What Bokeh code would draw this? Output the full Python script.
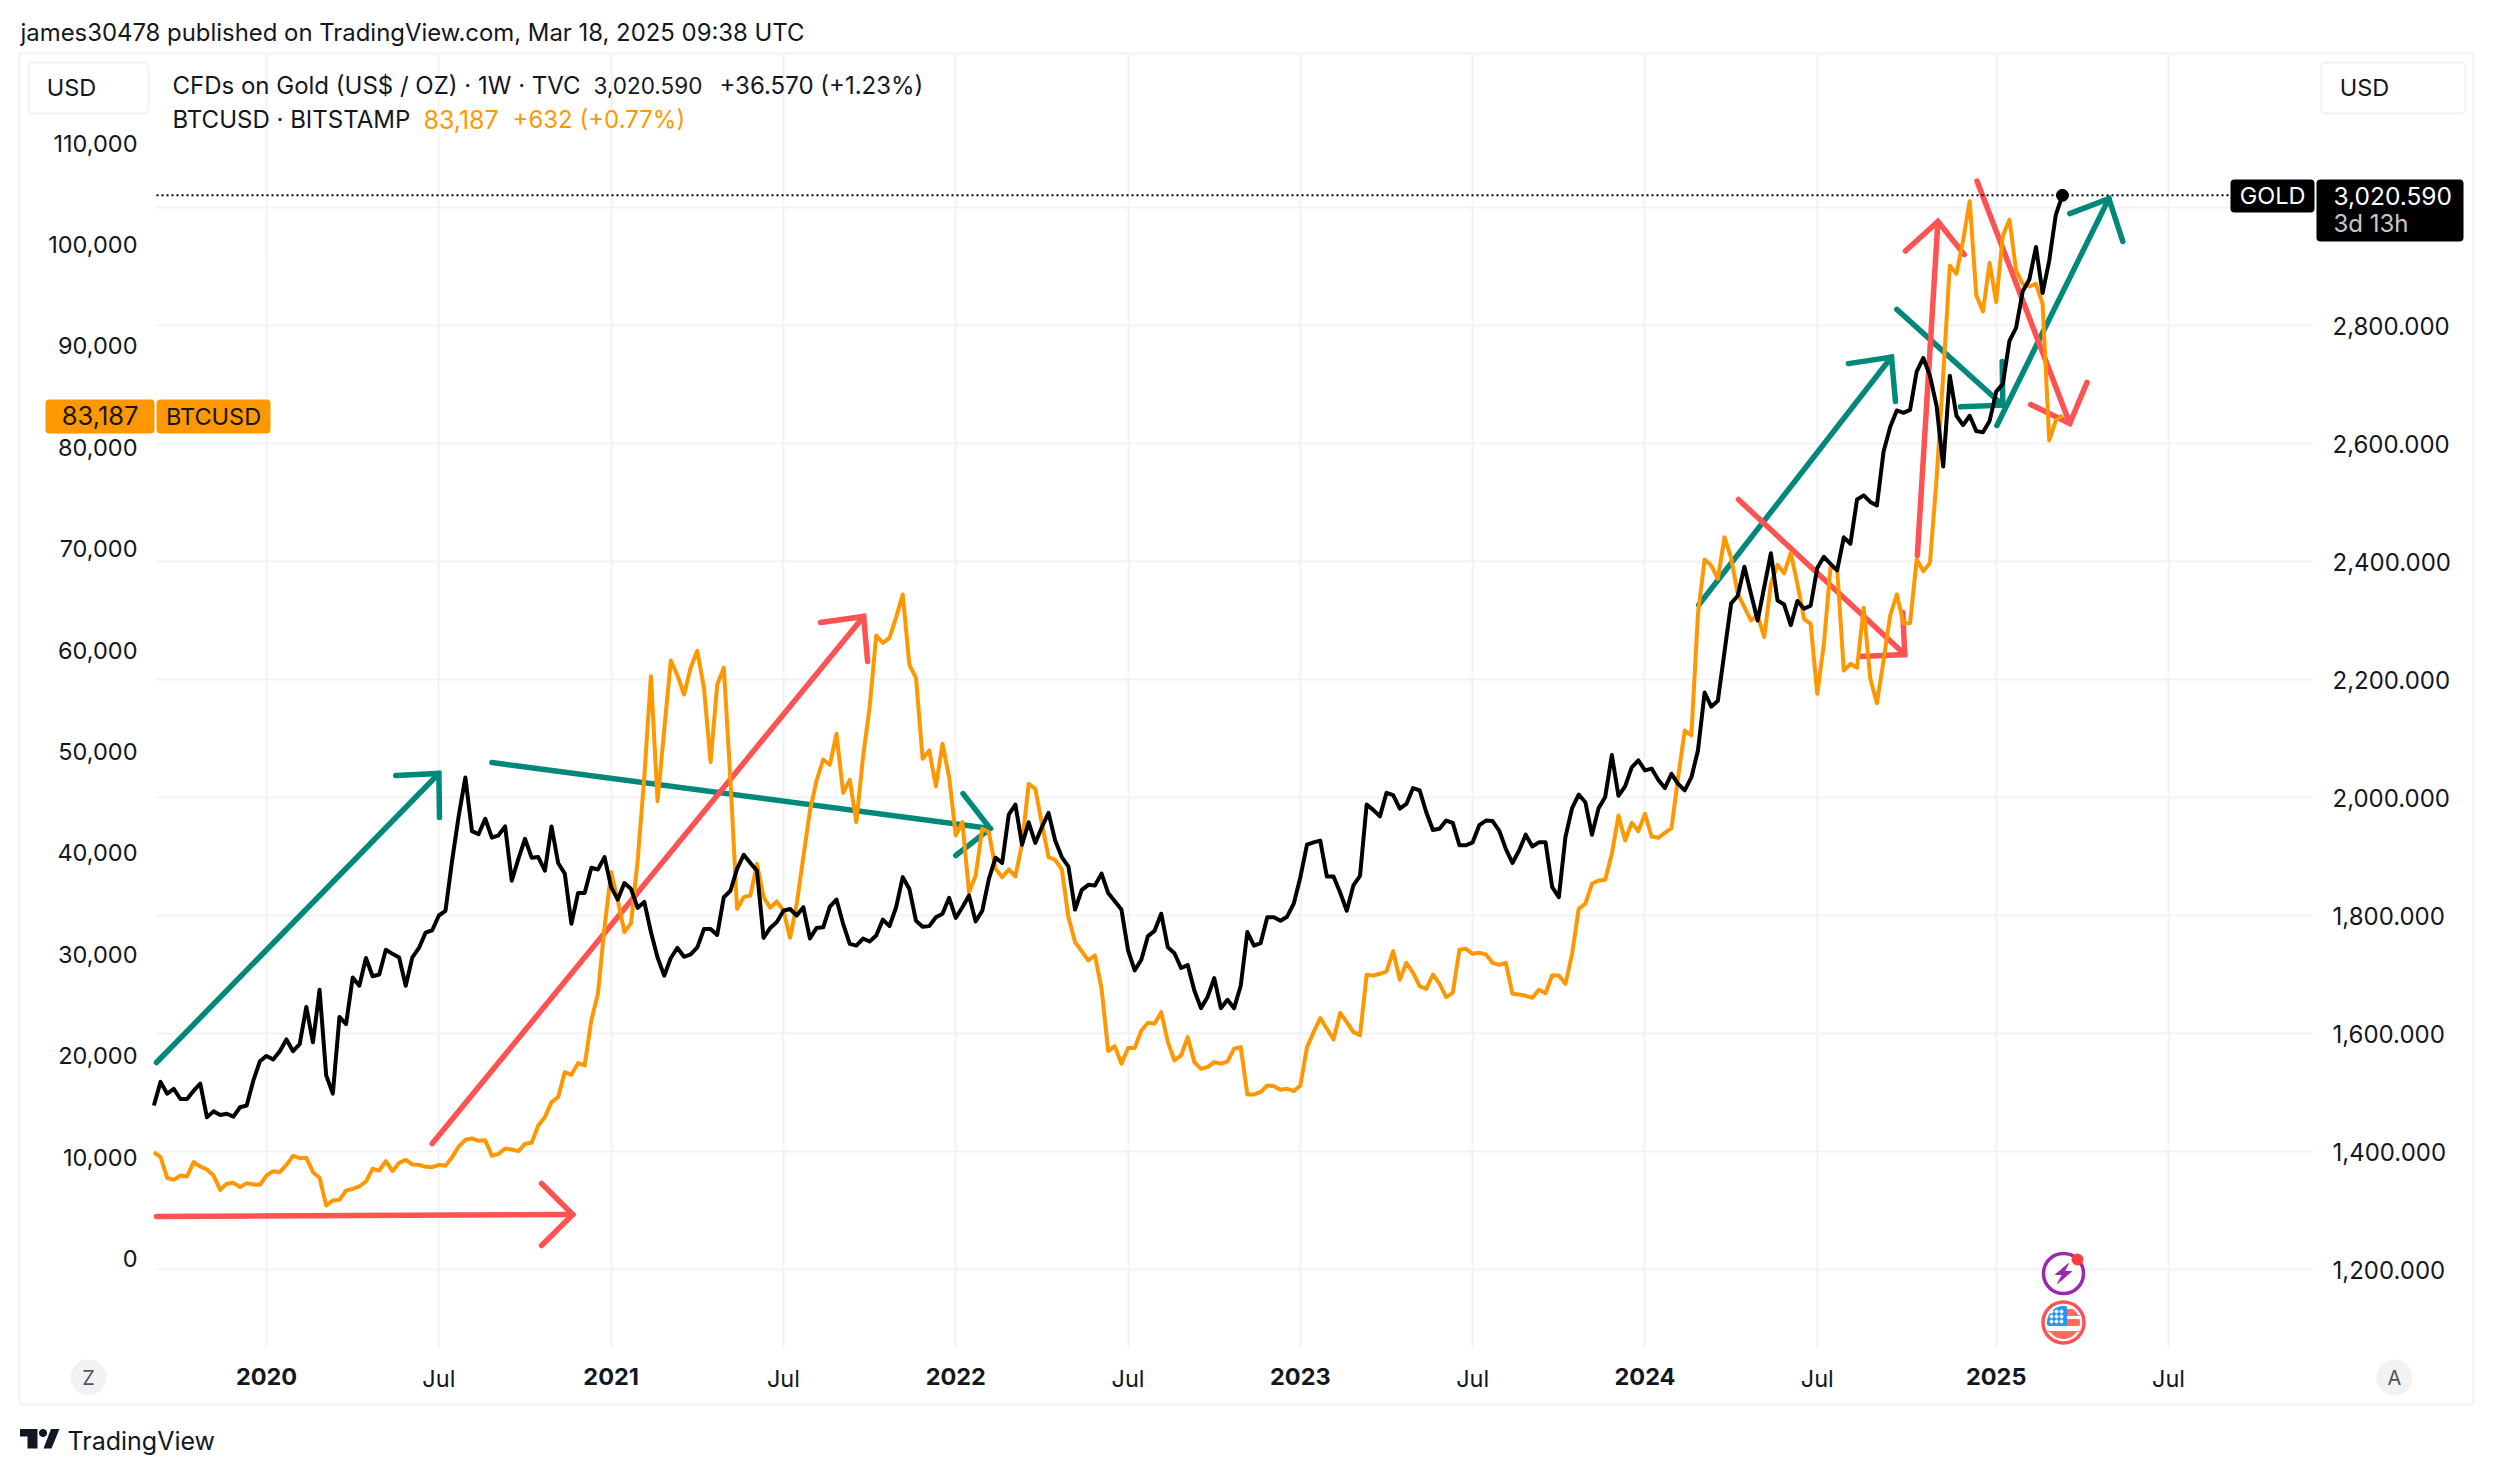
from bokeh.plotting import figure
from bokeh.embed import file_html
from bokeh.resources import INLINE
from bokeh.models import (LinearAxis, Range1d, FixedTicker, Grid, Label, BoxAnnotation,
                          PolyAnnotation, NumeralTickFormatter)
import numpy as np

# ---------- data (weekly closes, week 0 = 2019-09-02) ----------
gold = [1478,1518,1498,1506,1489,1489,1503,1515,1458,1468,
        1462,1464,1459,1475,1478,1520,1553,1562,1556,1570,
        1590,1570,1582,1645,1585,1674,1529,1498,1628,1616,
        1695,1681,1728,1697,1700,1742,1735,1729,1681,1729,
        1745,1771,1775,1800,1808,1893,1969,2034,1943,1938,
        1964,1932,1936,1951,1859,1896,1930,1898,1899,1876,
        1951,1889,1871,1786,1838,1838,1881,1878,1899,1848,
        1827,1855,1845,1813,1823,1772,1729,1698,1728,1745,
        1730,1734,1746,1777,1777,1767,1831,1842,1879,1903,
        1889,1876,1762,1779,1789,1808,1811,1800,1814,1761,
        1779,1780,1815,1827,1786,1752,1749,1761,1756,1766,
        1793,1782,1814,1865,1845,1791,1781,1782,1797,1803,
        1830,1796,1814,1834,1790,1808,1862,1898,1889,1971,
        1988,1920,1958,1923,1950,1974,1927,1899,1883,1810,
        1843,1852,1851,1871,1838,1824,1810,1741,1707,1725,
        1765,1774,1803,1746,1736,1711,1716,1673,1643,1662,
        1694,1643,1657,1643,1681,1772,1749,1753,1797,1797,
        1791,1798,1820,1865,1920,1924,1927,1866,1866,1839,
        1808,1851,1867,1988,1979,1968,2008,2004,1981,1989,
        2016,2012,1975,1945,1947,1961,1957,1919,1919,1924,
        1953,1961,1960,1944,1913,1889,1910,1937,1917,1924,
        1924,1848,1831,1933,1982,2005,1992,1937,1982,2001,
        2072,2003,2019,2051,2063,2046,2049,2030,2016,2040,
        2023,2012,2034,2080,2178,2154,2164,2247,2329,2342,
        2391,2345,2300,2357,2414,2334,2327,2292,2333,2320,
        2325,2389,2408,2396,2385,2441,2430,2505,2512,2501,
        2495,2586,2628,2656,2652,2657,2722,2745,2715,2664,
        2561,2715,2647,2631,2647,2621,2619,2638,2688,2701,
        2774,2796,2858,2878,2933,2855,2910,2988,3020.59]

btc = [10487,9994,7956,7759,8186,8088,9501,9074,8778,8186,
       6773,7365,7463,7036,7430,7299,7266,8186,8614,8515,
       9238,10126,9895,9928,8515,7956,5228,5721,5787,6707,
       6872,7102,7595,8844,8679,9600,8614,9435,9731,9271,
       9238,9041,9008,9238,9140,9994,11046,11703,11835,11605,
       11670,10126,10323,10849,10750,10586,11309,11408,13117,13938,
       15421,15915,18380,18117,19267,19037,23475,26104,32679,38102,
       35308,32185,33073,39252,47470,57430,45104,52072,58975,57496,
       55623,58252,59928,56280,48950,56576,58252,47143,34487,35637,
       35802,38925,35637,34586,35210,34323,31627,34980,39582,44184,
       47142,49213,48687,51744,45926,47208,43033,49443,54373,61440,
       60717,61210,63248,65483,58548,57266,49279,50100,46550,50757,
       47470,41718,43033,36130,37774,42376,42047,38432,37610,38366,
       37676,40897,46813,46320,42869,39582,39319,38366,33666,31201,
       30313,29392,29885,26598,20452,20945,19203,20748,20748,22490,
       23246,23147,24297,21339,19531,20024,21832,19367,18709,18873,
       19367,19203,19433,20682,20846,16176,16176,16407,17064,16998,
       16637,16736,16505,17064,20844,22323,23704,22652,21600,24230,
       23310,22323,22028,27977,27912,28076,28306,30311,27484,29161,
       28174,26860,26597,28010,27090,25775,26202,30442,30541,30048,
       30147,29982,29161,28964,29161,26104,26038,25906,25709,26498,
       26170,27944,27912,27090,30048,34485,34979,36951,37279,37345,
       39909,43689,41224,42966,42144,43853,41618,41487,41980,42440,
       47469,52071,51580,63578,68936,68344,67029,71138,69100,65550,
       64235,62921,63414,61277,66536,68410,67588,69560,66536,63085,
       62592,55689,60620,68180,68015,57990,58647,58253,64170,57168,
       54769,58976,63414,65485,62658,62658,68936,67785,68597,76900,
       87090,97900,97108,100395,104274,94972,93394,98193,94314,100888,
       102433,97437,96122,95859,96122,94150,80673,82645,83187]

year_weeks = [17, 69, 121, 173, 225, 278]
year_labels = ["2020", "2021", "2022", "2023", "2024", "2025"]
jul_weeks = [43, 95, 147, 199, 251, 304]
btc_ticks = list(range(0, 110001, 10000))
gold_ticks = list(range(1200, 2801, 200))
gold_grid = gold_ticks + [3000]

# drawn trend arrows: shaft start, tip, head end 1, head end 2 as (week, BTC price)
teal_arrows = [
    [(0.39, 19330), (43.0, 47830), (36.5, 47630), (43.1, 43490)],
    [(51.0, 48910), (126.2, 42400), (122.1, 45850), (121.0, 39740)],
    [(233.1, 64450), (262.2, 88900), (255.7, 88250), (262.8, 84520)],
    [(263.0, 93600), (279.0, 84150), (272.6, 83990), (278.9, 88460)],
    [(278.1, 82150), (295.0, 104530), (289.1, 103050), (297.1, 100300)],
]
red_arrows = [
    [(0.39, 4140), (63.2, 4340), (58.5, 7400), (58.5, 1280)],
    [(42.0, 11330), (107.1, 63320), (100.6, 62720), (107.7, 58880)],
    [(239.1, 74850), (264.2, 59560), (257.4, 59370), (263.9, 63710)],
    [(266.1, 69330), (269.2, 102260), (264.3, 99360), (273.2, 99000)],
    [(275.1, 106260), (289.1, 82350), (283.2, 84220), (291.7, 86400)],
]

# ---------- layout mapping of the reference page ----------
W, H = 2478, 1458
WK0, PXW = 153.4, 6.627
BTC0, PXB = 1258.0, 0.01014
G0, PXG = 443.0, 0.59
F_L, F_R, F_T, F_B = 156, 2313, 53, 1347
wk = lambda px: (px - WK0) / PXW
pr = lambda py: (BTC0 - py) / PXB

p = figure(width=W, height=H, output_backend="svg", toolbar_location=None,
           x_range=Range1d(wk(0), wk(W)), y_range=Range1d(pr(H), pr(0)),
           x_axis_location=None, y_axis_location=None,
           min_border=0, background_fill_color="white", border_fill_color="white",
           outline_line_color=None)
p.xgrid.visible = False
p.ygrid.visible = False
p.extra_y_ranges["gold"] = Range1d(2600 + (G0 - H) / PXG, 2600 + G0 / PXG)

FONT = "Inter"
TXT = "#131722"
GRID = "#f2f1f6"
FS = "23.5px"


def style(ax, bold=False, size=FS):
    ax.axis_line_color = None
    ax.major_tick_line_color = None
    ax.minor_tick_line_color = None
    ax.major_label_text_font = FONT
    ax.major_label_text_font_size = size
    ax.major_label_text_color = TXT
    ax.major_label_text_font_style = "bold" if bold else "normal"


left = LinearAxis(ticker=FixedTicker(ticks=btc_ticks), formatter=NumeralTickFormatter(format="0,0"),
                  fixed_location=wk(F_L))
style(left)
left.major_label_standoff = 13
p.add_layout(left, "left")

right = LinearAxis(y_range_name="gold", ticker=FixedTicker(ticks=gold_ticks),
                   formatter=NumeralTickFormatter(format="0,0.000"), fixed_location=wk(F_R))
style(right, size="24px")
right.major_label_standoff = 13
p.add_layout(right, "right")

bot = LinearAxis(ticker=FixedTicker(ticks=year_weeks), fixed_location=pr(F_B),
                 major_label_overrides=dict(zip(year_weeks, year_labels)))
style(bot, bold=True)
bot.major_label_standoff = 14
p.add_layout(bot, "below")

bot2 = LinearAxis(ticker=FixedTicker(ticks=jul_weeks), fixed_location=pr(F_B),
                  major_label_overrides={w: "Jul" for w in jul_weeks})
style(bot2)
bot2.major_label_standoff = 10
p.add_layout(bot2, "below")

p.add_layout(Grid(dimension=0, ticker=FixedTicker(ticks=year_weeks + jul_weeks),
                  cross_bounds=(pr(F_B), pr(F_T)),
                  grid_line_color=GRID, grid_line_width=2, level="underlay"))
p.add_layout(Grid(dimension=1, y_range_name="gold", ticker=FixedTicker(ticks=gold_grid),
                  cross_bounds=(wk(F_L), wk(F_R)),
                  grid_line_color=GRID, grid_line_width=2, level="underlay"))

# arrows
for arrows, col in ((teal_arrows, "#00897b"), (red_arrows, "#ff5252")):
    for s, t, h1, h2 in arrows:
        p.line([s[0], t[0]], [s[1], t[1]], line_color=col, line_width=5.5, line_cap="round")
        p.line([h1[0], t[0], h2[0]], [h1[1], t[1], h2[1]], line_color=col, line_width=5.5,
               line_cap="round", line_join="miter")

# series
weeks_btc = np.arange(len(btc))
weeks_gold = np.arange(len(gold))
p.line(weeks_btc, btc, line_color="#ff9800", line_width=4, line_join="round")
p.line(weeks_gold, gold, y_range_name="gold", line_color="#000000", line_width=4, line_join="round")
p.scatter([weeks_gold[-1]], [gold[-1]], y_range_name="gold", size=12, color="#000000")
p.segment([wk(F_L)], [gold[-1]], [wk(2230)], [gold[-1]], y_range_name="gold", line_color="#000000",
          line_dash="2 3", line_width=2)

# event icons
ix, iy1, iy2 = 2063, 1273, 1322
p.scatter([wk(ix)], [pr(iy1)], size=40, fill_color="white", line_color="#9c27b0", line_width=3.5)
p.patch([wk(v) for v in (2068, 2055, 2062, 2057, 2071, 2064)],
        [pr(v) for v in (1263, 1274, 1274, 1283, 1271, 1271)], color="#9c27b0")
p.scatter([wk(2077)], [pr(1259)], size=11, color="#ff3b3b")
p.scatter([wk(ix)], [pr(iy2)], size=41, fill_color="white", line_color="#ff5252", line_width=3.5)
th = np.linspace(0, 2 * np.pi, 60)
cx, cy = ix + 16 * np.cos(th), iy2 + 16 * np.sin(th)


def clip_patch(x0, x1, y0, y1, col):
    p.patch(wk(np.clip(cx, x0, x1)), pr(np.clip(cy, y0, y1)), color=col)


clip_patch(2066, 2080, 1309, 1315, "#ff6a5a")
clip_patch(2066, 2080, 1319, 1325, "#ff6a5a")
clip_patch(2040, 2085, 1331, 1340, "#ff6a5a")
clip_patch(2040, 2066, 1300, 1325, "#2196f3")
sx, sy = np.meshgrid([2051, 2056, 2061], [1311, 1316, 1321])
p.scatter(wk(sx.ravel()), pr(sy.ravel()), size=3, color="white")


# ---------- page chrome ----------
def poly(xs, ys, fill=None, line=None, lw=2):
    p.add_layout(PolyAnnotation(xs=[wk(v) for v in xs], ys=[pr(v) for v in ys],
                                fill_color=fill, fill_alpha=1 if fill else 0,
                                line_color=line, line_width=lw, line_alpha=1 if line else 0,
                                level="overlay"))


def box(x0, x1, y0, y1, fill=None, line=None, r=4):
    p.add_layout(BoxAnnotation(left=wk(x0), right=wk(x1), top=pr(y0), bottom=pr(y1),
                               fill_color=fill, fill_alpha=1 if fill else 0,
                               line_color=line, line_width=2, line_alpha=1 if line else 0,
                               border_radius=r, level="overlay"))


def text(x, y, s, color=TXT, size=FS, align="left", style_="normal"):
    p.add_layout(Label(x=wk(x), y=pr(y), text=s, text_font=FONT, text_font_size=size,
                       text_color=color, text_align=align, text_baseline="middle",
                       text_font_style=style_, level="overlay"))


def disc(x, y, r, col):
    t = np.linspace(0, 2 * np.pi, 40)
    poly(list(x + r * np.cos(t)), list(y + r * np.sin(t)), fill=col)


# outer frame
poly([19, 2473, 2473, 19], [53, 53, 1404, 1404], line="#f2f1f6")
text(20, 32, "james30478 published on TradingView.com, Mar 18, 2025 09:38 UTC", size="23.9px")

# USD boxes
box(28, 148, 62, 113, fill="white", line="#f2f1f6")
text(71, 87, "USD", align="center")
box(2321, 2465, 62, 113, fill="white", line="#f2f1f6")
text(2364, 87, "USD", align="center")

# legend
LG = "24px"
text(172, 85, "CFDs on Gold (US$ / OZ) · 1W · TVC", size=LG)
text(593, 85, "3,020.590", size="22.5px")
text(719, 85, "+36.570 (+1.23%)", size=LG)
text(172, 119, "BTCUSD · BITSTAMP", size=LG)
text(423, 119, "83,187", color="#ff9800", size="25px")
text(512, 119, "+632 (+0.77%)", color="#ff9800", size=LG)

# price badges
box(45, 154, 399, 433, fill="#ff9800")
box(156, 270, 399, 433, fill="#ff9800")
text(138, 415, "83,187", align="right", size="25.5px")
text(213, 416, "BTCUSD", align="center")
box(2230, 2314, 179, 212, fill="#000000")
text(2272, 195, "GOLD", color="#ffffff", align="center")
box(2316, 2463, 179, 241, fill="#000000")
text(2333, 195, "3,020.590", color="#ffffff", size="24.5px")
text(2333, 223, "3d 13h", color="#c8c8c8", size="24px")

# Z / A
disc(88, 1377, 18, "#f2f2f5")
text(88, 1377, "Z", color="#50535e", size="20px", align="center")
disc(2394, 1377, 18, "#f2f2f5")
text(2394, 1377, "A", color="#50535e", size="20px", align="center")

# logo
poly([19.5, 37, 37, 27, 27, 19.5], [1428.5, 1428.5, 1448, 1448, 1436, 1436], fill="#131722")
disc(42.5, 1432.5, 4, "#131722")
poly([43, 50.5, 59, 51], [1448, 1428.5, 1428.5, 1448], fill="#131722")
text(67, 1440, "TradingView", size="25px")

open("out.html", "w").write(file_html(p, INLINE))
